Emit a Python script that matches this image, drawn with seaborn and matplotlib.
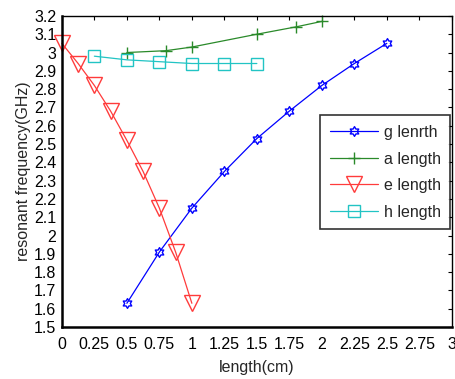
import numpy as np
import pandas as pd
import matplotlib
matplotlib.use("Agg")
import matplotlib.pyplot as plt
import seaborn as sns
from matplotlib.path import Path

g_x = [0.5, 0.75, 1.0, 1.25, 1.5, 1.75, 2.0, 2.25, 2.5]
g_y = [1.63, 1.91, 2.15, 2.35, 2.53, 2.68, 2.82, 2.94, 3.05]
a_x = [0.5, 0.8, 1.0, 1.5, 1.8, 2.0]
a_y = [3.00, 3.01, 3.03, 3.10, 3.14, 3.17]
e_x = [0.0, 0.125, 0.25, 0.375, 0.5, 0.625, 0.75, 0.875, 1.0]
e_y = [3.05, 2.94, 2.82, 2.68, 2.52, 2.35, 2.15, 1.91, 1.63]
h_x = [0.25, 0.5, 0.75, 1.0, 1.25, 1.5]
h_y = [2.98, 2.96, 2.95, 2.94, 2.94, 2.94]
labels = ["g lenrth", "a length", "e length", "h length"]
x_ticks = [0, 0.25, 0.5, 0.75, 1, 1.25, 1.5, 1.75, 2, 2.25, 2.5, 2.75, 3]
x_ticklabels = ["0", "0.25", "0.5", "0.75", "1", "1.25", "1.5", "1.75", "2", "2.25", "2.5", "2.75", "3"]
y_ticks = [1.5, 1.6, 1.7, 1.8, 1.9, 2.0, 2.1, 2.2, 2.3, 2.4, 2.5, 2.6, 2.7, 2.8, 2.9, 3.0, 3.1, 3.2]
y_ticklabels = ["1.5", "1.6", "1.7", "1.8", "1.9", "2", "2.1", "2.2", "2.3", "2.4", "2.5", "2.6", "2.7", "2.8", "2.9", "3", "3.1", "3.2"]

sns.set_style("white")
plt.rcParams['font.family'] = ['Liberation Sans', 'DejaVu Sans']

# hexagram marker
verts = []
for k in range(6):
    a_out = np.deg2rad(90 + 60 * k)
    a_in = np.deg2rad(120 + 60 * k)
    verts.append((np.cos(a_out), np.sin(a_out)))
    verts.append((0.577 * np.cos(a_in), 0.577 * np.sin(a_in)))
verts.append(verts[0])
codes = [Path.MOVETO] + [Path.LINETO] * (len(verts) - 2) + [Path.CLOSEPOLY]
hexagram = Path(verts, codes)

df = pd.concat([
    pd.DataFrame({"x": g_x, "y": g_y, "s": labels[0]}),
    pd.DataFrame({"x": a_x, "y": a_y, "s": labels[1]}),
    pd.DataFrame({"x": e_x, "y": e_y, "s": labels[2]}),
    pd.DataFrame({"x": h_x, "y": h_y, "s": labels[3]}),
])

fig = plt.figure(figsize=(4.55, 3.79), dpi=100)
ax = fig.add_axes([0.136, 0.137, 0.857, 0.821])

colors = ["#0000ff", "#2a8a2a", "#ff3b3b", "#22c4c4"]
markers = [hexagram, "+", "v", "s"]
msizes = [7, 8, 11, 9]
for lab, col, mk, ms in zip(labels, colors, markers, msizes):
    sub = df[df["s"] == lab]
    sns.lineplot(data=sub, x="x", y="y", ax=ax, color=col, linewidth=0.9,
                 marker=mk, markersize=ms, markerfacecolor="none",
                 markeredgecolor=col, markeredgewidth=1.0, label=lab,
                 sort=False, estimator=None, clip_on=False)

ax.set_xlim(0, 3)
ax.set_ylim(1.5, 3.2)
ax.set_xticks(x_ticks)
ax.set_xticklabels(x_ticklabels)
ax.set_yticks(y_ticks)
ax.set_yticklabels(y_ticklabels)
ax.tick_params(direction="in", top=True, right=True, length=3, width=0.8,
               labelsize=11.5, pad=4, colors="black")
ax.tick_params(axis="x", pad=7)
for sp in ax.spines.values():
    sp.set_visible(True)
    sp.set_color("black")
    sp.set_linewidth(1.0)
ax.spines["left"].set_linewidth(1.8)
ax.spines["bottom"].set_linewidth(1.8)
ax.set_xlabel("length(cm)", fontsize=11.5, labelpad=6)
ax.set_ylabel("resonant frequency(GHz)", fontsize=11.5, labelpad=2)
leg = ax.legend(loc="upper left", bbox_to_anchor=(0.662, 0.68), frameon=True,
                fancybox=False, edgecolor="black", fontsize=11.5,
                handlelength=3.0, borderpad=0.6, labelspacing=0.72, handletextpad=0.4,
                borderaxespad=0)
leg.get_frame().set_linewidth(1.2)
fig.savefig("out.png", dpi=100)
